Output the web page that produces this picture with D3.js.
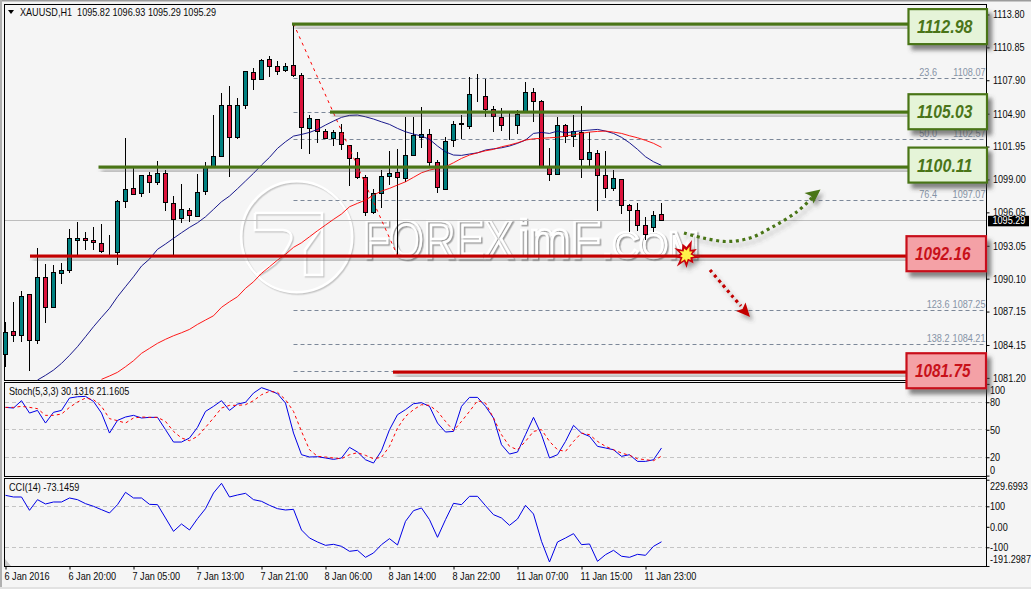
<!DOCTYPE html>
<html>
<head>
<meta charset="utf-8">
<title>XAUUSD H1</title>
<script src="https://cdn.jsdelivr.net/npm/d3@7/dist/d3.min.js"></script>
<style>
  html, body { margin: 0; padding: 0; background: #f5f5f5; overflow: hidden; }
  svg { display: block; }
  text { font-family: "Liberation Sans", Arial, sans-serif; font-size: 10.4px; fill: #0a0a0a; }
</style>
</head>
<body>
<svg id="chart" width="1031" height="589"></svg>
<script>
// Hourly XAUUSD candles
const opens = [1083.31,1085.38,1084.98,1088.69,1084.57,1090.22,1087.53,1090.58,1090.85,1093.54,1093.72,1093.54,1093.27,1092.55,1092.43,1097.04,1098.20,1097.74,1099.37,1098.70,1099.55,1096.86,1095.47,1096.23,1095.69,1097.90,1100.11,1101.07,1105.65,1102.78,1105.65,1108.61,1107.98,1109.77,1109.14,1108.78,1109.23,1108.34,1103.58,1104.39,1103.31,1102.67,1103.22,1102.06,1100.89,1099.19,1096.01,1097.75,1099.28,1099.64,1099.10,1101.16,1102.78,1103.04,1100.53,1098.11,1102.51,1103.94,1103.76,1106.54,1106.45,1105.29,1104.57,1103.91,1103.85,1105.02,1106.81,1106.00,1100.20,1099.46,1103.85,1102.87,1103.22,1100.80,1101.34,1099.37,1098.20,1099.01,1096.68,1096.23,1094.88,1094.70,1095.82];
const highs = [1086.24,1088.00,1088.99,1088.72,1092.82,1091.41,1091.32,1091.47,1094.52,1095.15,1094.26,1094.70,1095.00,1094.01,1097.15,1102.69,1100.00,1099.39,1099.64,1100.62,1099.84,1097.51,1098.59,1096.41,1099.48,1100.53,1104.78,1106.72,1107.35,1106.30,1108.70,1108.96,1109.77,1110.04,1109.59,1109.41,1112.98,1108.52,1104.75,1104.42,1103.49,1103.43,1103.94,1102.08,1101.43,1099.39,1098.11,1099.84,1101.55,1101.73,1104.57,1104.62,1105.49,1103.49,1100.74,1102.78,1104.21,1104.78,1108.16,1108.43,1108.00,1105.56,1105.38,1104.93,1105.22,1107.71,1107.17,1106.12,1101.82,1104.57,1103.94,1104.78,1105.58,1103.22,1101.61,1101.52,1099.82,1099.01,1096.77,1096.86,1095.60,1096.14,1096.93];
const lows = [1082.20,1084.42,1084.42,1081.84,1084.24,1086.15,1087.44,1089.62,1090.58,1092.22,1092.67,1092.67,1092.43,1092.22,1091.35,1096.41,1097.66,1097.45,1097.81,1098.50,1096.17,1092.22,1095.06,1095.18,1095.65,1097.60,1100.09,1101.07,1099.24,1102.65,1105.34,1107.04,1107.89,1108.16,1108.34,1108.61,1108.16,1101.70,1101.25,1102.26,1102.60,1102.00,1101.64,1098.41,1099.01,1095.74,1095.90,1096.43,1098.50,1092.16,1098.77,1101.10,1101.82,1100.20,1097.81,1098.11,1101.88,1102.60,1103.49,1105.97,1104.62,1103.28,1103.37,1102.51,1103.10,1105.02,1104.12,1100.11,1098.88,1099.46,1102.24,1101.88,1099.10,1100.20,1096.19,1097.30,1097.93,1095.87,1094.26,1094.40,1093.54,1094.26,1095.29];
const closes = [1085.29,1085.02,1088.51,1084.57,1090.22,1087.53,1090.67,1090.85,1093.72,1093.72,1093.54,1093.36,1092.51,1092.55,1097.04,1098.11,1097.66,1099.37,1098.70,1099.55,1096.91,1095.39,1096.32,1095.78,1097.84,1100.05,1101.07,1105.65,1102.78,1105.65,1108.70,1107.98,1109.68,1109.14,1108.70,1109.14,1108.34,1103.67,1104.48,1103.31,1102.69,1103.22,1102.11,1100.89,1099.15,1096.01,1097.75,1099.28,1099.55,1099.19,1101.16,1102.96,1103.04,1100.53,1098.29,1102.42,1103.94,1104.01,1106.63,1106.54,1105.25,1104.66,1103.85,1103.91,1104.84,1106.81,1106.00,1100.20,1099.46,1103.85,1102.87,1103.31,1100.80,1101.43,1099.33,1098.20,1099.10,1096.68,1096.23,1094.88,1094.08,1095.78,1095.29];

// Moving averages; the first value of each belongs to the candle given by its start index
const fastMaStart = 4;
const fastMa = [1081.01,1081.43,1081.90,1082.50,1083.22,1084.00,1084.89,1085.79,1086.63,1087.44,1088.48,1089.38,1090.27,1091.23,1091.86,1092.73,1093.21,1093.72,1094.22,1094.70,1095.12,1095.65,1096.32,1097.00,1097.51,1098.17,1098.86,1099.55,1100.29,1100.98,1101.79,1102.38,1102.89,1103.04,1103.22,1103.49,1103.88,1104.24,1104.57,1104.75,1104.78,1104.62,1104.42,1104.17,1103.94,1103.58,1103.28,1103.07,1102.89,1102.60,1102.00,1101.48,1101.19,1101.16,1101.28,1101.39,1101.64,1101.75,1101.84,1102.00,1102.24,1102.53,1103.13,1103.22,1103.13,1103.34,1103.19,1103.28,1103.37,1103.43,1103.49,1103.34,1103.13,1102.78,1102.29,1101.70,1101.04,1100.59,1100.26];
const slowMaStart = 12;
const slowMa = [1081.07,1081.37,1081.70,1082.20,1082.74,1083.40,1083.85,1084.30,1084.66,1084.98,1085.25,1085.55,1086.00,1086.39,1086.77,1087.53,1088.03,1088.48,1089.23,1089.82,1090.58,1091.17,1091.77,1092.28,1092.91,1093.32,1093.86,1094.40,1094.91,1095.42,1095.90,1096.55,1096.86,1097.15,1097.60,1097.96,1098.20,1098.50,1098.79,1099.19,1099.60,1099.84,1100.00,1100.14,1100.50,1100.89,1101.19,1101.39,1101.57,1101.70,1101.93,1102.09,1102.29,1102.53,1102.65,1102.69,1102.74,1102.78,1102.89,1103.01,1103.13,1103.25,1103.31,1103.34,1103.25,1103.13,1102.92,1102.74,1102.51,1102.24,1101.88];

// Stochastic oscillator and CCI
const stochMain = [74.4,73.7,81.7,68.2,71.1,57.3,69.0,71.1,84.6,86.0,86.4,80.9,68.2,46.4,60.2,63.9,65.7,62.8,63.5,63.5,50.1,36.6,36.6,41.0,52.6,70.0,75.5,81.7,71.1,78.0,79.9,90.0,95.9,92.9,89.3,79.1,46.4,22.8,20.3,20.6,19.2,17.7,19.2,30.8,25.7,17.3,13.7,27.2,50.1,66.4,71.9,78.4,79.5,75.5,57.3,47.5,48.2,75.5,85.3,85.3,75.5,62.8,33.7,23.5,25.7,44.6,63.5,44.6,19.2,22.8,37.3,54.8,46.4,42.8,31.9,30.1,28.2,21.0,22.8,15.5,15.5,17.3,30.1316];
const stochSignal = [74.4,74.4,75.5,74.4,73.0,65.7,65.7,67.1,74.4,80.2,84.6,82.8,75.5,62.1,59.9,57.3,62.8,63.9,63.5,63.5,59.1,48.2,41.0,38.1,42.8,52.6,62.8,73.7,76.6,76.6,77.3,81.7,88.2,91.9,90.8,82.8,70.0,48.2,28.2,21.0,20.3,19.2,18.4,22.8,25.0,22.1,18.4,19.9,31.9,51.9,64.6,71.9,77.3,76.6,70.0,59.1,49.0,59.1,70.0,81.7,79.1,62.8,44.6,31.9,28.2,37.3,48.2,50.1,37.3,28.2,26.4,37.3,46.4,44.6,37.3,31.9,28.2,24.6,22.1,18.4,17.3,16.3,21.1605];
const cciValues = [153.5,145.4,145.4,80.4,132.4,111.3,121.0,121.0,140.5,132.4,112.9,99.9,83.6,67.4,108.0,168.2,140.5,140.5,109.6,108.0,43.0,-22.1,13.7,-15.6,39.7,88.5,164.9,212.1,145.4,155.2,163.3,132.4,124.3,104.8,88.5,82.0,85.3,-15.6,-54.6,-74.1,-90.4,-85.5,-95.2,-119.6,-114.7,-148.9,-127.8,-87.1,-57.8,-88.7,26.7,78.8,91.8,34.8,-51.3,34.8,114.5,108.0,148.7,148.7,103.1,59.2,43.0,7.2,38.1,104.8,62.5,-70.8,-171.7,-74.1,-54.6,-33.4,-87.1,-83.8,-168.4,-135.9,-114.7,-143.6,-148.9,-134.3,-139.1,-95.2,-73.1459];

// Axis labels
const priceTicks = [1113.80,1110.85,1107.90,1104.90,1101.95,1099.00,1096.05,1093.05,1090.10,1087.15,1084.15,1081.20];
const stochTicks = [100,80,50,20,0];
const cciTicks = [229.6993,100,0,-100,-191.2987];
const timeLabels = ["6 Jan 2016","6 Jan 20:00","7 Jan 05:00","7 Jan 13:00","7 Jan 21:00","8 Jan 06:00","8 Jan 14:00","8 Jan 22:00","11 Jan 07:00","11 Jan 15:00","11 Jan 23:00"];

// Support and resistance levels with their first candle, and the Fibonacci retracement
const resistanceLevels = [1112.98,1105.03,1100.11];
const resistanceStart = [36,41,12];
const supportLevels = [1092.16,1081.75];
const supportStart = [3,49];
const fibRatios = [23.6,38.2,50.0,61.8,76.4,100,123.6,138.2,150];
const fibPrices = [1108.07,1105.03,1102.57,1100.11,1097.07,1092.16,1087.25,1084.21,1081.75];
const fibLabelled = [23.6,50.0,76.4,123.6,138.2];
const lastPrice = 1095.29;

const GREEN = "#4a7518", RED = "#c30000", TEAL = "#008080", CRIMSON = "#dc143c", FIB = "#7c8899";
const svg = d3.select("#chart");

const defs = svg.append("defs");
function shadow(id, dx, dy, blur, opacity, colour) {
  defs.append("filter").attr("id", id)
    .attr("x", "-20%").attr("y", "-60%").attr("width", "150%").attr("height", "260%")
    .append("feDropShadow")
    .attr("dx", dx).attr("dy", dy).attr("stdDeviation", blur)
    .attr("flood-color", colour || "#444").attr("flood-opacity", opacity);
}
shadow("lineShadow", 3, 5, 2, 0.6);
shadow("boxShadow", 4, 5, 2, 0.65);
shadow("arrowShadow", 3, 4, 2, 0.45);
shadow("logoShade", 1.2, 1.4, 0.7, 0.9, "#c2c2c2");
shadow("letterShade", 1.5, 1.5, 0.6, 1, "#9e9e9e");

// Narrow a text horizontally about its own anchor point
function squeeze(node, factor) {
  const at = +node.getAttribute("x") || 0;
  node.setAttribute("transform", `translate(${at},0) scale(${factor},1) translate(${-at},0)`);
}

// Scales
const x = d3.scaleLinear().domain([0, 82]).range([5.5, 661.5]);
const yPrice = d3.scaleLinear().domain([1081.01, 1114.74]).range([380, 4]);
const yStoch = d3.scaleLinear().domain([0, 100]).range([475.6, 383.9]);
const yCci = d3.scaleLinear().domain([-100, 100]).range([547.3, 506.3]);
const crisp = v => Math.round(v - 0.5) + 0.5;

// Window background and panes
svg.append("rect").attr("width", 1031).attr("height", 589).attr("fill", "#f5f5f5");
svg.append("rect").attr("width", 1031).attr("height", 1.5).attr("fill", "#9c9c9c");
svg.append("rect").attr("width", 2).attr("height", 589).attr("fill", "#b0b0b0");
svg.append("rect").attr("y", 587).attr("width", 1031).attr("height", 2).attr("fill", "#e2e2e2");
const panes = [[4.5, 380.5], [382.5, 476.5], [478.5, 566.5]];
svg.selectAll(".pane").data(panes).join("rect").attr("class", "pane")
  .attr("x", 4.5).attr("y", d => d[0]).attr("width", 982).attr("height", d => d[1] - d[0])
  .attr("fill", "none").attr("stroke", "#000");

// Watermark behind the price bars
const logo = svg.append("g").attr("fill", "none").attr("stroke", "#fff").attr("stroke-width", 2.6).attr("filter", "url(#logoShade)");
logo.append("circle").attr("cx", 296.7).attr("cy", 236.7).attr("r", 55.5);
logo.append("path").attr("d", "M255,213H322V275H305V250L322,226M255,213V230H283Q293,231 291,240Q282,262 256,275");
const letters = svg.append("g").attr("filter", "url(#letterShade)");
[["FOREX", 363, 258, 53, 150], ["imF", 518, 258, 53, 83], [".COM", 602, 258, 37, 97]].forEach(t => {
  const label = letters.append("text").attr("class", "fixed").attr("x", t[1]).attr("y", t[2]).text(t[0])
    .style("font-size", t[3] + "px").style("fill", "none")
    .style("stroke", "#fff").style("stroke-width", 2.6);
  squeeze(label.node(), t[4] / label.node().getComputedTextLength());
});

// Fibonacci levels
const fib = svg.append("g");
fib.selectAll("line").data(fibPrices).join("line")
  .attr("x1", x(36)).attr("x2", 986)
  .attr("y1", d => crisp(yPrice(d))).attr("y2", d => crisp(yPrice(d)))
  .attr("stroke", FIB).attr("stroke-dasharray", "4,3");
fibLabelled.forEach(r => {
  const price = fibPrices[fibRatios.indexOf(r)];
  const base = yPrice(price) - 2.5;
  fib.append("text").attr("x", r >= 100 ? 949.5 : 937).attr("y", base).attr("text-anchor", "end")
    .style("fill", "#8593a6").text(r.toFixed(1));
  fib.append("text").attr("x", 985.5).attr("y", base).attr("text-anchor", "end")
    .style("fill", "#8593a6").text(price.toFixed(2));
});

// Last price line
svg.append("line").attr("x1", 5).attr("x2", 986)
  .attr("y1", crisp(yPrice(lastPrice))).attr("y2", crisp(yPrice(lastPrice)))
  .attr("stroke", "#bdbdbd");

// Candles
const candles = svg.append("g").selectAll("g").data(opens).join("g");
candles.append("line")
  .attr("x1", (d, i) => x(i)).attr("x2", (d, i) => x(i))
  .attr("y1", (d, i) => Math.round(yPrice(highs[i])))
  .attr("y2", (d, i) => Math.round(yPrice(lows[i])))
  .attr("stroke", "#000");
candles.append("rect")
  .attr("x", (d, i) => x(i) - 2).attr("width", 4)
  .attr("y", (d, i) => crisp(yPrice(Math.max(opens[i], closes[i]))))
  .attr("height", (d, i) => crisp(yPrice(Math.min(opens[i], closes[i]))) - crisp(yPrice(Math.max(opens[i], closes[i]))))
  .attr("fill", (d, i) => closes[i] >= opens[i] ? TEAL : CRIMSON)
  .attr("stroke", "#000");

// Fibonacci trend line
svg.append("line")
  .attr("x1", x(36)).attr("y1", yPrice(resistanceLevels[0]))
  .attr("x2", x(49)).attr("y2", yPrice(supportLevels[0]))
  .attr("stroke", "#ff0000").attr("stroke-dasharray", "3,4");

// Moving averages
const maLine = start => d3.line().x((d, i) => x(i + start)).y(d => yPrice(d));
svg.append("path").attr("d", maLine(fastMaStart)(fastMa)).attr("fill", "none").attr("stroke", "#000080").attr("stroke-width", 0.9);
svg.append("path").attr("d", maLine(slowMaStart)(slowMa)).attr("fill", "none").attr("stroke", "#ff0000").attr("stroke-width", 0.9);

// Oscillator panes
[80, 50, 20].forEach(v => svg.append("line").attr("x1", 5).attr("x2", 986)
  .attr("y1", crisp(yStoch(v))).attr("y2", crisp(yStoch(v)))
  .attr("stroke", "#c4c4c4").attr("stroke-dasharray", "4,3"));
[100, -100].forEach(v => svg.append("line").attr("x1", 5).attr("x2", 986)
  .attr("y1", crisp(yCci(v))).attr("y2", crisp(yCci(v)))
  .attr("stroke", "#c4c4c4").attr("stroke-dasharray", "4,3"));
const stochLine = d3.line().x((d, i) => x(i)).y(d => yStoch(d));
svg.append("path").attr("d", stochLine(stochMain)).attr("fill", "none").attr("stroke", "#0000e6");
svg.append("path").attr("d", stochLine(stochSignal)).attr("fill", "none").attr("stroke", "#ff0000").attr("stroke-dasharray", "3,3");
svg.append("path").attr("d", d3.line().x((d, i) => x(i)).y(d => yCci(d))(cciValues)).attr("fill", "none").attr("stroke", "#0000e6");
svg.append("path").attr("d", "M5,566V559L11,566Z").attr("fill", "#c8c8c8");

// Right-hand axes
function rightAxis(scale, ticks, format) {
  const g = svg.append("g").attr("transform", "translate(986.5,0)")
    .call(d3.axisRight(scale).tickValues(ticks).tickFormat(format).tickSize(3).tickPadding(3));
  g.select(".domain").remove();
  g.selectAll("line").attr("stroke", "#000");
  return g;
}
const priceAxis = rightAxis(yPrice, priceTicks, d3.format(".2f"));
priceAxis.selectAll("text").attr("x", 6.5);
svg.append("line").attr("x1", 986.5).attr("x2", 986.5).attr("y1", 4).attr("y2", 567).attr("stroke", "#000");

const stochAxis = rightAxis(yStoch, stochTicks, d3.format("d"));
stochAxis.selectAll("text").attr("x", 3.5)
  .attr("dy", d => d === 100 ? "0.95em" : d === 0 ? "-0.25em" : "0.32em");
const cciAxis = rightAxis(yCci, cciTicks, d => Number.isInteger(d) ? (d === 0 ? "0.00" : String(d)) : d.toFixed(4));
cciAxis.selectAll("text").attr("x", 3.5)
  .attr("dy", d => d > 200 ? "0.9em" : d < -150 ? "-0.3em" : "0.32em");

// Time axis, one label every eight candles
const timeIndex = timeLabels.map((d, i) => i * 8);
const timeAxis = svg.append("g").attr("transform", "translate(0,566.5)")
  .call(d3.axisBottom(x).tickValues(timeIndex).tickFormat((d, i) => timeLabels[i]).tickSize(3).tickPadding(3));
timeAxis.select(".domain").remove();
timeAxis.selectAll("line").attr("stroke", "#000");
timeAxis.selectAll("text").attr("text-anchor", "start").attr("x", -1.5);

// Pane captions
const ohlcLast = [opens, highs, lows, closes].map(a => a[a.length - 1].toFixed(2)).join(" ");
svg.append("path").attr("d", "M8,10H14L11,14Z").attr("fill", "#000");
svg.append("text").attr("x", 20).attr("y", 16).style("white-space", "pre")
  .text("XAUUSD,H1  " + ohlcLast);
svg.append("text").attr("x", 9).attr("y", 395)
  .text("Stoch(5,3,3) " + stochMain[82].toFixed(4) + " " + stochSignal[82].toFixed(4));
svg.append("text").attr("x", 9).attr("y", 491).text("CCI(14) " + cciValues[82].toFixed(4));

// Level lines, each drawn slightly ahead of its first candle
const levels = svg.append("g");
function levelLine(value, startIndex, lead, color) {
  levels.append("rect").attr("x", x(startIndex) - lead)
    .attr("y", Math.round(yPrice(value)) - 1.5).attr("width", 908 - x(startIndex) + lead)
    .attr("height", 3.2).attr("fill", color).attr("filter", "url(#lineShadow)");
}
const resistanceLead = [1.5, 3.5, 3];
const supportLead = [-0.5, 4.5];
resistanceLevels.forEach((v, i) => levelLine(v, resistanceStart[i], resistanceLead[i], GREEN));
supportLevels.forEach((v, i) => levelLine(v, supportStart[i], supportLead[i], RED));

// Dotted scenario arrows
const curve = d3.line().curve(d3.curveCatmullRom);
function dottedArrow(path, head, color) {
  const g = svg.append("g").attr("filter", "url(#arrowShadow)");
  g.append("path").attr("d", curve(path)).attr("fill", "none")
    .attr("stroke", color).attr("stroke-width", 3.2).attr("stroke-dasharray", "3,3.6");
  g.append("path").attr("d", "M" + head.join("L") + "Z").attr("fill", color);
}
dottedArrow([[684, 233], [703, 238], [727, 241.5], [750, 238], [773, 226.7], [797, 211.7], [812, 198]],
  [[820.5, 189.5], [804.5, 193], [811, 196], [813.5, 203.5]], GREEN);
dottedArrow([[710, 270], [722, 284], [733, 297], [741, 306]],
  [[750, 317], [736, 311], [742.5, 309], [745.5, 302.5]], RED);

// Breakout burst on the support line
const burst = d3.lineRadial().curve(d3.curveLinearClosed).angle((d, i) => i * Math.PI * 2 / 18);
const burstOuter = [8, 16, 7, 12, 6, 14, 7, 11, 6.5, 13, 7, 15, 7, 11, 6.5, 14, 7, 12];
const burstInner = [4.5, 9, 4.5, 7, 4, 8, 4.5, 6.5, 4, 7.5, 4.5, 9, 4.5, 6.5, 4, 8, 4.5, 7];
const burstGroup = svg.append("g").attr("transform", "translate(686.5,255)").attr("filter", "url(#arrowShadow)");
burstGroup.append("path").attr("d", burst.radius(d => d)(burstOuter)).attr("fill", "#c8000a");
burstGroup.append("path").attr("d", burst.radius(d => d)(burstInner)).attr("fill", "#fff24a");

// Level boxes at the right edge
function levelBox(value, left, right, centreShift, fill, stroke) {
  const cy = yPrice(value) + centreShift;
  const g = svg.append("g");
  g.append("rect").attr("x", left).attr("y", cy - 17.5).attr("width", right - left).attr("height", 35)
    .attr("fill", fill).attr("stroke", stroke).attr("stroke-width", 2.2).attr("filter", "url(#boxShadow)");
  const label = g.append("text").attr("class", "fixed").attr("x", left + 8.5).attr("y", cy + 6.5)
    .style("font-size", "18.5px").style("font-weight", "bold").style("font-style", "italic")
    .style("fill", stroke).text(value.toFixed(2));
  squeeze(label.node(), 55.5 / label.node().getComputedTextLength());
}
const resistanceShift = [3, -0.5, -2];
resistanceLevels.forEach((v, i) => levelBox(v, 908.5, 987, resistanceShift[i], "#e5f4d8", GREEN));
const supportShift = [-2, -1];
supportLevels.forEach((v, i) => levelBox(v, 906.5, 986, supportShift[i], "#f4a1a6", "#c8111a"));

// Last price flag
svg.append("rect").attr("x", 988).attr("y", yPrice(lastPrice) - 5).attr("width", 41).attr("height", 10.5).attr("fill", "#000");
svg.append("text").attr("x", 992.5).attr("y", yPrice(lastPrice) + 3.5).style("fill", "#fff").text(lastPrice.toFixed(2));

// Tighten the small labels to the platform's narrow terminal lettering
svg.selectAll("text:not(.fixed)").each(function () { squeeze(this, 0.875); });
</script>
</body>
</html>
